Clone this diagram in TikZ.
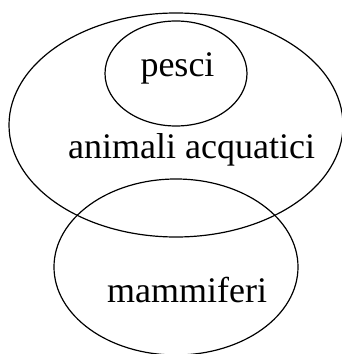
\documentclass[tikz,border=0pt]{standalone}
\usepackage{fontspec}
\setmainfont{Liberation Serif}
\usetikzlibrary{shapes.geometric}
\begin{document}
\begin{tikzpicture}[x=1pt,y=1pt,
  setshape/.style={draw,ellipse,line width=1.2pt,inner sep=0pt},
  lbl/.style={anchor=base,font=\fontsize{36}{40}\selectfont,inner sep=0pt}]
\useasboundingbox (0,0) rectangle (341,354);
\node[setshape,minimum width=334pt,minimum height=224pt] (acq) at (176,229) {};
\node[setshape,minimum width=142pt,minimum height=105pt] (pes) at (176,280.5) {};
\node[setshape,minimum width=244pt,minimum height=176pt] (mam) at (176,87) {};
\node[lbl] (tp) at (177.5,277) {pesci};
\node[lbl] (ta) at (191.5,195) {animali acquatici};
\node[lbl] (tm) at (187,52) {mammiferi};
\end{tikzpicture}
\end{document}
